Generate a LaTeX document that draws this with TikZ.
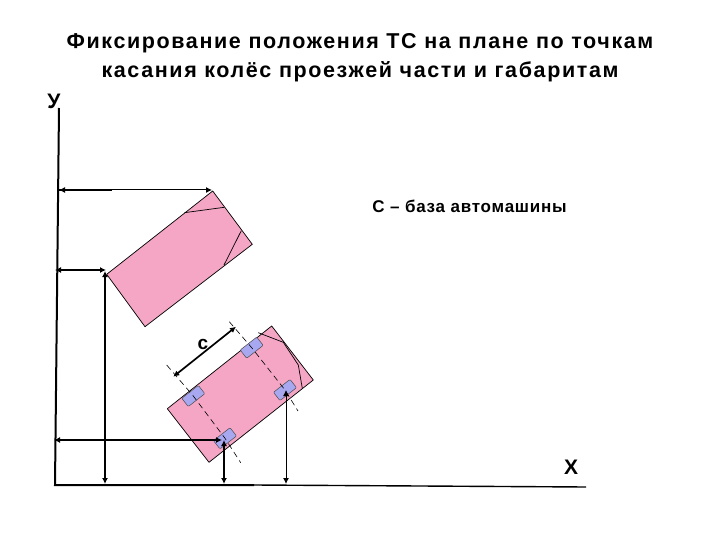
\documentclass[tikz,border=0pt]{standalone}
\usepackage{fontspec}
\setmainfont{Liberation Sans}
\usetikzlibrary{arrows.meta}
\definecolor{carpink}{HTML}{F4A6C4}
\definecolor{wheelblue}{HTML}{A8A8F0}
\tikzset{
  x=1pt,y=-1pt,
  car/.style={draw=black,fill=carpink,line width=0.7pt,line join=round},
  detail/.style={draw=black,line width=0.7pt},
  wheel/.style={draw=black!70,fill=wheelblue,line width=0.5pt,rounded corners=1pt,minimum width=21pt,minimum height=10.5pt,inner sep=0pt,rotate=38},
  axle/.style={draw=black,line width=0.6pt,dash pattern=on 6pt off 4pt},
  thickdim/.style={draw=black,line width=1.7pt,{Latex[length=6pt,width=6pt]}-{Latex[length=6pt,width=6pt]}},
  thindim/.style={draw=black,line width=1pt,{Latex[length=6pt,width=6pt]}-{Latex[length=6pt,width=6pt]}},
  axisline/.style={draw=black,line width=2pt},
  label/.style={inner sep=0pt,font=\bfseries},
}
\begin{document}
\begin{tikzpicture}
\useasboundingbox (0,0) rectangle (720,540);
% title
\node[label,font=\bfseries\fontsize{21.5}{29}\selectfont\addfontfeature{LetterSpace=7.5},align=center] (title) at (360,58) {Фиксирование положения ТС на плане по точкам\\касания колёс проезжей части и габаритам};
\node[label,font=\bfseries\fontsize{21}{24}\selectfont] (ylab) at (54,101) {У};
\node[label,font=\bfseries\fontsize{21}{24}\selectfont] (xlab) at (571,467) {Х};
\node[label,font=\bfseries\fontsize{17}{20}\selectfont\addfontfeature{LetterSpace=4.5}] (base) at (469.5,206) {С – база автомашины};
% axes
\coordinate (ytop) at (59,108);
\coordinate (origin) at (55,485);
\coordinate (xmid) at (254,485);
\coordinate (xend) at (586,487);
\draw[axisline] (ytop) -- (origin) -- (xmid);
\draw[draw=black,line width=1.4pt] (xmid) -- (xend);
% upper car
\draw[car] (212.7,191) -- (252.3,244.3) -- (145,326.7) -- (106.7,274.3) -- cycle;
\draw[detail] (184.3,212.7) -- (224.3,207.3);
\draw[detail] (241.3,230.7) -- (224,265);
% lower car
\draw[car] (271.7,326) -- (313.3,380) -- (209,462.3) -- (167.3,408.7) -- cycle;
\draw[detail] (258.3,332.7) -- (283.3,342.3) -- (298.3,365) -- (302.3,388.3);
% wheels
\node[wheel] (w1) at (251.7,347.7) {};
\node[wheel] (w2) at (193.3,396) {};
\node[wheel] (w3) at (285,390) {};
\node[wheel] (w4) at (225,438.3) {};
% axles
\coordinate (a1) at (229.3,321.7);
\coordinate (a2) at (298,411);
\coordinate (b1) at (166.7,365);
\coordinate (b2) at (240.7,462.7);
\draw[axle] (a1) -- (w1.center) -- (w3.center) -- (a2);
\draw[axle] (b1) -- (w2.center) -- (w4.center) -- (b2);
% dimension arrows
\coordinate (p1) at (59,190);
\coordinate (p1m) at (112,190);
\coordinate (p2) at (212,190);
\coordinate (p3) at (55,270);
\coordinate (p4) at (106,270);
\coordinate (p5) at (105,271);
\coordinate (p6) at (105,484);
\coordinate (p7) at (54,440);
\coordinate (p8) at (222,440);
\coordinate (p9) at (224,440);
\coordinate (p10) at (224,484);
\coordinate (p11) at (286,390);
\coordinate (p12) at (286,484);
\coordinate (c1) at (173.3,376.7);
\coordinate (c2) at (236,326.7);
\draw[thindim] (p1) -- (p2);
\draw[draw=black,line width=1.7pt] (p1) -- (p1m);
\draw[thickdim] (p3) -- (p4);
\draw[thickdim] (p5) -- (p6);
\draw[thickdim] (p7) -- (p8);
\draw[thickdim] (p9) -- (p10);
\draw[thindim] (p11) -- (p12);
\draw[thickdim] (c1) -- (c2);
\node[label,font=\bfseries\fontsize{19}{20}\selectfont] (clab) at (203,344) {с};
\end{tikzpicture}
\end{document}
